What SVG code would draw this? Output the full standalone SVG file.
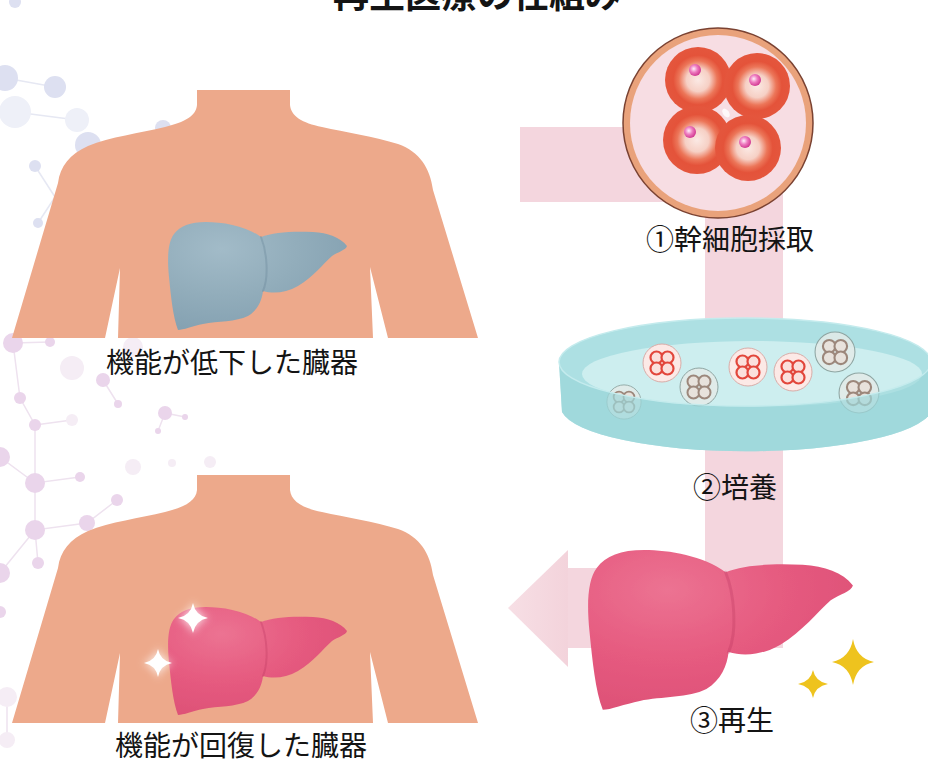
<svg xmlns="http://www.w3.org/2000/svg" xmlns:xlink="http://www.w3.org/1999/xlink" width="928" height="763" viewBox="0 0 928 763">
  <style>
    .label { font-family: "Noto Sans CJK JP", "Noto Sans", sans-serif; font-size: 28px; fill: #141414; text-anchor: middle; }
    .title { font-family: "Noto Sans CJK JP", "Noto Sans", sans-serif; font-size: 36px; font-weight: bold; fill: #141414; text-anchor: middle; }
    .skin { fill: #EDA98B; }
    .band { fill: #F4D6DE; }
    .molB { fill: #DDE0F1; }
    .molBp { fill: #EEF0F8; }
    .molP { fill: #EAD5EB; }
    .molPp { fill: #F5EDF5; }
    .linkB { stroke: #E6E8F3; stroke-width: 1.5; fill: none; }
    .linkP { stroke: #EEE2EF; stroke-width: 1.5; fill: none; }
    .lobe { fill: none; stroke-width: 2; stroke-linecap: round; opacity: 0.3; }
  </style>
  <defs>
    <!-- torso silhouette: neck, shoulders, arms with armpit gaps -->
    <path id="torso" d="M197,90 L290,90 L290,105 C291,116 302,123 322,127 C345,132 375,137 398,144 C420,152 430,168 433,190 L478,338 L388,338 L370,267 L373,338 L118,338 L120,268 L105,338 L12,338 L58,183 C60,166 70,154 88,146 C110,137 140,133 165,127 C185,122 196,116 197,105 Z"/>
    <!-- liver outline, local coordinates (about 179 x 108) -->
    <path id="liver" d="M10,108 C5,95 3,75 1,55 C-1,35 0,20 6,12 C12,4 22,0 38,0 C55,0 78,4 93,15 C105,10 125,9 145,10 C160,11 172,15 179,24 C178,28 170,30 164,34 C155,42 145,55 130,64 C118,71 105,72 95,69 C94,78 90,88 80,94 C68,100 50,99 35,102 C25,104 15,108 10,108 Z"/>
    <path id="lobeLine" d="M93,15 C99,30 101,55 95,69"/>
    <!-- four-point sparkle, radius 10 -->
    <path id="spark" d="M0,-10 Q1.6,-1.6 10,0 Q1.6,1.6 0,10 Q-1.6,1.6 -10,0 Q-1.6,-1.6 0,-10 Z"/>

    <radialGradient id="liverBlue" cx="0.3" cy="0.25" r="0.85">
      <stop offset="0" stop-color="#A2BBC8"/>
      <stop offset="0.5" stop-color="#92ADBB"/>
      <stop offset="1" stop-color="#829FB0"/>
    </radialGradient>
    <radialGradient id="liverPink" cx="0.3" cy="0.25" r="0.85">
      <stop offset="0" stop-color="#EC7392"/>
      <stop offset="0.5" stop-color="#E65B80"/>
      <stop offset="1" stop-color="#DC4F75"/>
    </radialGradient>
    <radialGradient id="cellGrad" cx="0.5" cy="0.5" r="0.5">
      <stop offset="0" stop-color="#FBE9E4"/>
      <stop offset="0.35" stop-color="#F6D0C5"/>
      <stop offset="0.58" stop-color="#EC7659"/>
      <stop offset="0.75" stop-color="#E4533A"/>
      <stop offset="1" stop-color="#E4563D"/>
    </radialGradient>
    <radialGradient id="nucleus" cx="0.4" cy="0.4" r="0.6">
      <stop offset="0" stop-color="#FFF2FA"/>
      <stop offset="0.5" stop-color="#EE7CC0"/>
      <stop offset="1" stop-color="#D23C93"/>
    </radialGradient>
    <linearGradient id="arrowHead" x1="0" y1="0" x2="1" y2="0">
      <stop offset="0" stop-color="#F7DFE5"/>
      <stop offset="1" stop-color="#F3D3DB"/>
    </linearGradient>
    <filter id="soft" x="-50%" y="-50%" width="200%" height="200%">
      <feGaussianBlur stdDeviation="2.5"/>
    </filter>
    <filter id="blurEdge" x="-10%" y="-10%" width="120%" height="120%">
      <feGaussianBlur stdDeviation="0.5"/>
    </filter>

    <!-- small cultured cell clusters -->
    <g id="cellRed">
      <circle r="19" fill="#FCE9E6" stroke="#D9ACA8" stroke-width="1"/>
      <circle cx="-5.5" cy="-5.5" r="6" fill="#FBE0DC" stroke="#E2463B" stroke-width="2.2"/>
      <circle cx="5.5" cy="-5.5" r="6" fill="#FBE0DC" stroke="#E2463B" stroke-width="2.2"/>
      <circle cx="-5.5" cy="5.5" r="6" fill="#FBE0DC" stroke="#E2463B" stroke-width="2.2"/>
      <circle cx="5.5" cy="5.5" r="6" fill="#FBE0DC" stroke="#E2463B" stroke-width="2.2"/>
    </g>
    <g id="cellGray">
      <circle r="19" fill="#E3EAE7" fill-opacity="0.85" stroke="#8FA5A2" stroke-width="1"/>
      <circle cx="-5.5" cy="-5.5" r="6" fill="#E8E2DC" stroke="#9C877B" stroke-width="2"/>
      <circle cx="5.5" cy="-5.5" r="6" fill="#E8E2DC" stroke="#9C877B" stroke-width="2"/>
      <circle cx="-5.5" cy="5.5" r="6" fill="#E8E2DC" stroke="#9C877B" stroke-width="2"/>
      <circle cx="5.5" cy="5.5" r="6" fill="#E8E2DC" stroke="#9C877B" stroke-width="2"/>
    </g>
  </defs>

  <rect width="928" height="763" fill="#FFFFFF"/>

  <!-- faint molecular network in the background -->
  <g id="molecules">
    <path class="linkB" d="M5,78 L55,87 M15,112 L77,120 M35,166 L55,197 M38,223 L55,197"/>
    <circle class="molB" cx="15" cy="2" r="6"/>
    <circle class="molB" cx="5" cy="78" r="13"/>
    <circle class="molB" cx="55" cy="87" r="11"/>
    <circle class="molBp" cx="15" cy="112" r="16"/>
    <circle class="molBp" cx="77" cy="120" r="12"/>
    <circle class="molB" cx="88" cy="145" r="13"/>
    <circle class="molB" cx="35" cy="166" r="6"/>
    <circle class="molB" cx="38" cy="223" r="5"/>
    <circle class="molB" cx="163" cy="128" r="8"/>

    <path class="linkP" d="M13,343 L20,398 L35,425 L35,483 L80,477 M35,483 L35,530 L87,523 L117,500 M35,530 L38,563 M0,457 L35,483 M35,425 L72,420 M103,380 L118,404 M165,413 L158,431 M165,413 L185,417 M50,342 L13,343 M35,530 L0,573 M7,697 L7,740"/>
    <circle class="molP" cx="13" cy="343" r="10"/>
    <circle class="molP" cx="50" cy="342" r="5"/>
    <circle class="molPp" cx="72" cy="368" r="12"/>
    <circle class="molP" cx="103" cy="380" r="7"/>
    <circle class="molP" cx="118" cy="404" r="4"/>
    <circle class="molP" cx="20" cy="398" r="6"/>
    <circle class="molP" cx="35" cy="425" r="6"/>
    <circle class="molPp" cx="72" cy="420" r="6"/>
    <circle class="molP" cx="0" cy="457" r="10"/>
    <circle class="molP" cx="35" cy="483" r="10"/>
    <circle class="molP" cx="80" cy="477" r="5"/>
    <circle class="molP" cx="117" cy="500" r="6"/>
    <circle class="molP" cx="87" cy="523" r="8"/>
    <circle class="molP" cx="35" cy="530" r="10"/>
    <circle class="molP" cx="38" cy="563" r="6"/>
    <circle class="molP" cx="0" cy="573" r="10"/>
    <circle class="molP" cx="165" cy="413" r="7"/>
    <circle class="molP" cx="158" cy="431" r="3"/>
    <circle class="molP" cx="185" cy="417" r="3"/>
    <circle class="molPp" cx="133" cy="467" r="8"/>
    <circle class="molPp" cx="172" cy="463" r="4"/>
    <circle class="molPp" cx="210" cy="462" r="6"/>
    <circle class="molP" cx="0" cy="612" r="6"/>
    <circle class="molPp" cx="7" cy="697" r="10"/>
    <circle class="molPp" cx="7" cy="740" r="8"/>
    <circle class="molPp" cx="133" cy="347" r="10"/>
  </g>

  <!-- title (runs off the top edge) -->
  <text class="title" x="477" y="8">再生医療の仕組み</text>

  <!-- body with failing organ -->
  <g id="before">
    <use href="#torso" class="skin"/>
    <g transform="translate(168,222)" filter="url(#blurEdge)">
      <use href="#liver" fill="url(#liverBlue)"/>
      <use href="#lobeLine" class="lobe" stroke="#5F7F92"/>
    </g>
    <text class="label" x="232" y="373">機能が低下した臓器</text>
  </g>

  <!-- body with recovered organ -->
  <g id="after">
    <use href="#torso" class="skin" transform="translate(0,385)"/>
    <g transform="translate(168,607)" filter="url(#blurEdge)">
      <use href="#liver" fill="url(#liverPink)"/>
      <use href="#lobeLine" class="lobe" stroke="#B8365C"/>
    </g>
    <g fill="#FFFFFF">
      <use href="#spark" transform="translate(193,618) scale(1.7)" filter="url(#soft)" opacity="0.8"/>
      <use href="#spark" transform="translate(193,618) scale(1.5)"/>
      <use href="#spark" transform="translate(158,663) scale(1.6)" filter="url(#soft)" opacity="0.8"/>
      <use href="#spark" transform="translate(158,663) scale(1.4)"/>
    </g>
    <text class="label" x="241" y="756">機能が回復した臓器</text>
  </g>

  <!-- process pathway band ending in an arrow pointing left -->
  <g id="connectors">
    <rect class="band" x="520" y="127" width="263" height="75"/>
    <rect class="band" x="705" y="127" width="78" height="521"/>
    <rect class="band" x="568" y="568" width="215" height="80"/>
    <polygon points="568,550 508,608 568,667" fill="url(#arrowHead)"/>
  </g>

  <!-- step 1: stem cell harvest -->
  <g id="step1">
    <circle cx="718" cy="123" r="95" fill="#E9A27B" stroke="#7A4232" stroke-width="1.5"/>
    <circle cx="718" cy="123" r="88" fill="#F7DDE3"/>
    <circle cx="698" cy="80" r="33" fill="url(#cellGrad)"/>
    <circle cx="757" cy="86" r="33" fill="url(#cellGrad)"/>
    <circle cx="697" cy="140" r="34" fill="url(#cellGrad)"/>
    <circle cx="748" cy="148" r="33" fill="url(#cellGrad)"/>
    <ellipse cx="726" cy="113" rx="3" ry="5" fill="#FFFFFF" opacity="0.8" transform="rotate(-35 726 113)"/>
    <circle cx="695" cy="70" r="6" fill="url(#nucleus)"/>
    <circle cx="755" cy="80" r="6" fill="url(#nucleus)"/>
    <circle cx="690" cy="132" r="6" fill="url(#nucleus)"/>
    <circle cx="745" cy="142" r="6" fill="url(#nucleus)"/>
    <text class="label" x="730" y="250">①幹細胞採取</text>
  </g>

  <!-- step 2: culture dish -->
  <g id="step2">
    <path d="M559,362 L562,412 A186,45 0 0 0 931,412 L931,362 Z" fill="#A3DBDE"/>
    <ellipse cx="745" cy="362" rx="186" ry="44" fill="#ADE0E3"/>
    <ellipse cx="752" cy="374" rx="170" ry="33" fill="#CDEEEF"/>
    <use href="#cellGray" transform="translate(835,352) scale(1.05)"/>
    <use href="#cellRed" transform="translate(662,363)"/>
    <use href="#cellRed" transform="translate(748,367)"/>
    <use href="#cellRed" transform="translate(793,372)"/>
    <use href="#cellGray" transform="translate(699,387)"/>
    <use href="#cellGray" transform="translate(624,402) scale(0.9)"/>
    <use href="#cellGray" transform="translate(859,393) scale(1.05)"/>
    <path d="M559,362 A186,44 0 0 0 931,362 L931,412 A186,45 0 0 1 562,412 Z" fill="#9ED8DB" opacity="0.7"/>
    <ellipse cx="745" cy="362" rx="186" ry="44" fill="none" stroke="#C4EBED" stroke-width="1.5"/>
    <text class="label" x="735" y="498">②培養</text>
  </g>

  <!-- step 3: regenerated liver -->
  <g id="step3">
    <g transform="translate(588,550) scale(1.48)" filter="url(#blurEdge)">
      <use href="#liver" fill="url(#liverPink)"/>
      <use href="#lobeLine" class="lobe" stroke="#B8365C"/>
    </g>
    <g fill="#EEC31E">
      <use href="#spark" transform="translate(853,662) scale(2.1,2.3)"/>
      <use href="#spark" transform="translate(813,684) scale(1.5,1.4)"/>
    </g>
    <text class="label" x="732" y="731">③再生</text>
  </g>
</svg>
